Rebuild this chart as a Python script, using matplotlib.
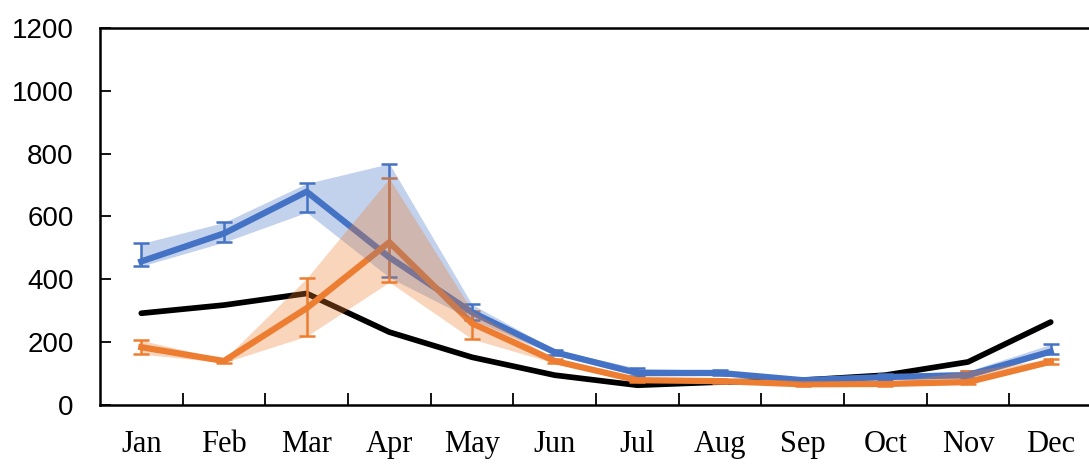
import matplotlib
matplotlib.use('Agg')
import matplotlib.pyplot as plt
import numpy as np

months = ['Jan', 'Feb', 'Mar', 'Apr', 'May', 'Jun', 'Jul', 'Aug', 'Sep', 'Oct', 'Nov', 'Dec']

# serie de referencia (negra)
black_vals = [292, 318, 355, 232, 152, 95, 63, 73, 79, 95, 137, 264]

# serie azul: media, límite inferior y superior
blue_vals = [457, 546, 679, 470, 295, 168, 102, 102, 79, 89, 95, 170]
blue_low = [442, 518, 613, 406, 272, 160, 92, 94, 73, 80, 85, 162]
blue_high = [514, 581, 705, 768, 320, 176, 117, 110, 85, 98, 108, 193]

# serie naranja: media, límite inferior y superior
orange_vals = [184, 140, 308, 518, 260, 140, 79, 76, 66, 67, 73, 138]
orange_low = [162, 135, 219, 391, 210, 133, 72, 70, 61, 61, 66, 130]
orange_high = [206, 145, 403, 721, 300, 147, 86, 82, 71, 73, 108, 146]

BLUE = '#4472C4'
ORANGE = '#ED7D31'

fig = plt.figure(figsize=(10.89, 4.65), dpi=100)
ax = fig.add_axes([0.0918, 0.129, 0.911, 0.811])

x = np.arange(len(months))

ax.plot(x, black_vals, color='black', lw=4.1, solid_capstyle='round', zorder=2)

b = np.array(blue_vals)
ax.errorbar(x, b, yerr=[b - np.array(blue_low), np.array(blue_high) - b],
            color=BLUE, lw=4.5, elinewidth=1.8, capsize=5.5, capthick=1.8, zorder=2)
o = np.array(orange_vals)
ax.errorbar(x, o, yerr=[o - np.array(orange_low), np.array(orange_high) - o],
            color=ORANGE, lw=4.5, elinewidth=1.8, capsize=5.5, capthick=1.8, zorder=2)

ax.fill_between(x, blue_low, blue_high, color=BLUE, alpha=0.32, lw=0, zorder=3)
ax.fill_between(x, orange_low, orange_high, color=ORANGE, alpha=0.32, lw=0, zorder=3)

ax.set_xlim(-0.5, 11.5)
ax.set_ylim(0, 1200)
ax.set_yticks(range(0, 1201, 200))
ax.set_yticklabels([str(v) for v in range(0, 1201, 200)],
                   fontsize=20, family='Liberation Sans')

# marcas entre categorías, etiquetas centradas
ax.set_xticks(np.arange(0.5, 11, 1))
ax.set_xticklabels([])
ax.set_xticks(x, minor=True)
ax.set_xticklabels(months, minor=True, fontsize=22, family='Liberation Serif')
ax.tick_params(axis='x', which='major', direction='in', length=9, width=1.3)
ax.tick_params(axis='x', which='minor', length=0, pad=18)
ax.tick_params(axis='y', direction='in', length=8, width=1.3, pad=19)

for s in ax.spines.values():
    s.set_linewidth(1.8)

plt.savefig('out.png', dpi=100)
plt.close()
